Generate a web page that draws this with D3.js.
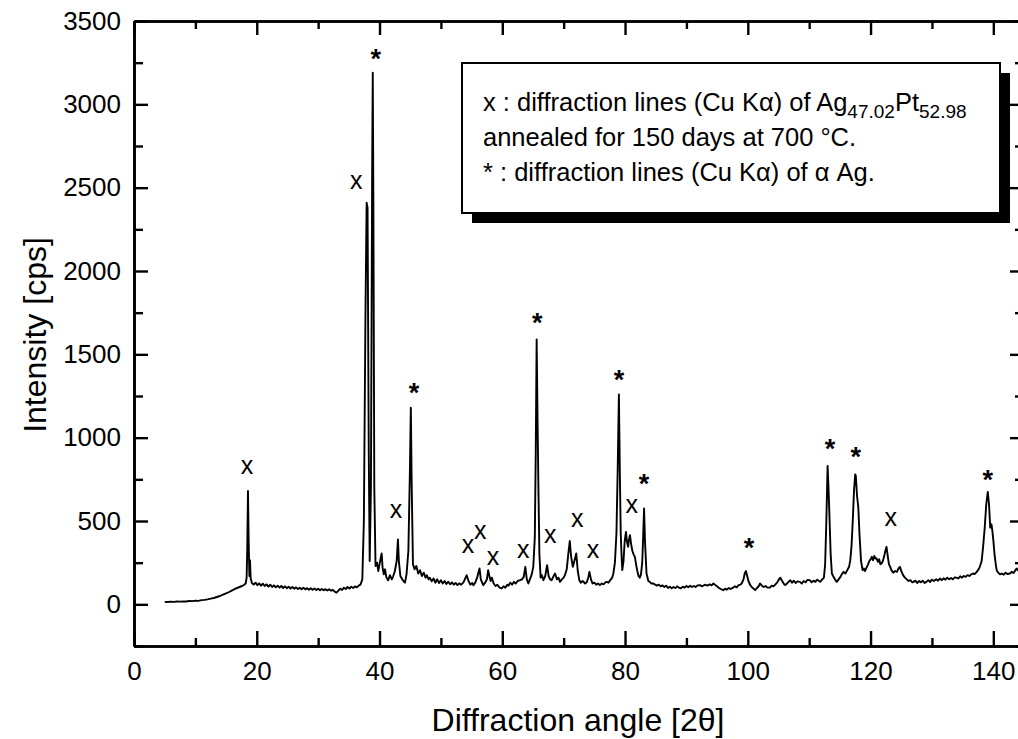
<!DOCTYPE html>
<html><head><meta charset="utf-8">
<script src="https://cdn.jsdelivr.net/npm/d3@7/dist/d3.min.js"></script>
<style>body{margin:0;background:#fff}svg{display:block}text{font-family:"Liberation Sans",Arial,sans-serif;fill:#000}</style>
</head><body><svg id="c" width="1018" height="739"></svg>
<script>
// ---- data ----
const twoTheta = [5.0,5.5,6.0,6.5,7.0,7.5,8.0,8.5,9.0,9.5,10.0,10.5,11.0,11.5,12.0,12.5,13.0,13.5,14.0,14.5,15.0,15.5,16.0,16.4,16.8,17.2,17.6,17.9,18.2,18.35,18.45,18.57,18.68,18.8,18.9,19.0,19.2,19.5,19.8,20.1,20.4,20.7,21.0,21.3,21.6,21.9,22.2,22.5,22.8,23.1,23.4,23.7,24.0,24.3,24.6,24.9,25.2,25.5,25.8,26.1,26.4,26.7,27.0,27.3,27.6,27.9,28.2,28.5,28.8,29.1,29.4,29.7,30.0,30.3,30.6,30.9,31.2,31.5,31.8,32.1,32.4,32.7,33.0,33.3,33.6,33.9,34.2,34.5,34.8,35.1,35.4,35.7,36.0,36.3,36.6,36.9,37.2,37.45,37.7,37.9,38.05,38.25,38.4,38.6,38.8,38.9,39.0,39.15,39.35,39.6,39.8,40.0,40.2,40.35,40.5,40.7,40.9,41.1,41.4,41.7,42.0,42.2,42.5,42.8,43.0,43.15,43.4,43.7,44.0,44.15,44.4,44.7,44.95,45.1,45.25,45.45,45.7,46.0,46.3,46.6,46.9,47.2,47.5,47.7,48.0,48.2,48.5,48.8,49.1,49.4,49.7,50.0,50.3,50.6,50.9,51.2,51.5,51.8,52.1,52.4,52.7,53.0,53.3,53.65,53.9,54.2,54.5,54.8,55.1,55.3,55.6,55.9,56.1,56.3,56.5,56.9,57.2,57.5,57.7,57.9,58.1,58.3,58.6,58.9,59.2,59.5,59.9,60.2,60.5,60.8,61.0,61.3,61.6,61.9,62.2,62.5,62.9,63.2,63.5,63.75,64.0,64.25,64.5,64.8,65.05,65.3,65.45,65.6,65.75,65.9,66.05,66.25,66.45,66.7,67.0,67.3,67.55,67.8,68.05,68.3,68.6,68.9,69.15,69.4,69.7,70.0,70.2,70.5,70.75,71.0,71.2,71.5,71.75,72.05,72.3,72.55,72.8,73.1,73.5,73.8,74.0,74.2,74.45,74.7,75.0,75.3,75.6,75.9,76.2,76.5,76.8,77.0,77.3,77.6,77.9,78.1,78.35,78.6,78.8,79.0,79.15,79.3,79.45,79.55,79.75,79.95,80.15,80.3,80.5,80.65,80.8,81.0,81.2,81.4,81.6,81.8,82.0,82.2,82.4,82.6,82.8,82.95,83.1,83.25,83.5,83.8,84.1,84.3,84.6,84.9,85.2,85.5,85.8,86.1,86.4,86.7,87.0,87.3,87.6,87.9,88.2,88.5,88.8,89.1,89.4,89.7,90.0,90.3,90.6,90.9,91.2,91.5,91.8,92.2,92.6,93.0,93.4,93.8,94.1,94.4,94.7,95.0,95.3,95.6,96.0,96.3,96.6,96.9,97.2,97.6,97.9,98.2,98.5,98.8,99.0,99.3,99.5,99.7,99.9,100.1,100.4,100.7,101.0,101.2,101.5,101.8,102.0,102.3,102.6,102.9,103.2,103.6,103.9,104.2,104.5,104.8,105.0,105.3,105.6,105.9,106.1,106.4,106.7,106.9,107.2,107.5,107.8,108.1,108.5,108.8,109.1,109.4,109.7,110.1,110.4,110.7,111.0,111.3,111.6,111.8,112.1,112.4,112.6,112.8,113.0,113.15,113.3,113.5,113.7,113.9,114.2,114.5,114.8,115.1,115.3,115.6,115.9,116.2,116.5,116.7,116.9,117.1,117.3,117.5,117.6,117.8,118.0,118.2,118.45,118.7,118.9,119.1,119.4,119.6,119.8,120.0,120.2,120.4,120.6,120.8,121.0,121.2,121.4,121.6,121.8,122.0,122.2,122.4,122.6,122.8,123.0,123.2,123.4,123.7,124.0,124.3,124.55,124.8,125.0,125.3,125.6,125.9,126.2,126.5,126.8,127.0,127.3,127.6,127.9,128.2,128.5,128.8,129.1,129.4,129.7,130.0,130.3,130.7,131.0,131.3,131.6,131.9,132.2,132.5,132.8,133.1,133.4,133.7,134.0,134.3,134.6,134.9,135.2,135.5,135.8,136.1,136.4,136.7,137.0,137.3,137.6,137.8,138.1,138.35,138.6,138.85,139.1,139.3,139.5,139.7,139.85,140.0,140.2,140.4,140.55,140.8,141.1,141.4,141.7,142.0,142.3,142.7,143.0,143.3,143.6,143.8,144.1,144.4,144.7,145.0];
const counts = [15,14,16,15,17,16,18,17,20,19,22,21,25,27,30,34,38,44,50,58,66,74,84,92,98,104,110,116,125,160,330,680,380,170,265,160,128,118,130,115,126,112,124,110,120,106,118,104,114,102,112,100,110,98,108,97,106,95,104,94,102,92,100,91,99,90,97,88,96,87,95,86,94,85,92,84,91,83,90,82,86,76,70,82,94,86,100,92,104,95,106,98,108,102,112,118,150,500,1700,2410,2380,900,260,700,2600,3190,2400,700,230,250,200,240,280,305,220,180,210,165,144,175,150,165,200,260,390,260,170,150,135,130,180,320,800,1180,700,240,210,230,185,205,170,190,160,175,150,160,138,155,130,150,128,145,125,140,122,136,120,132,118,128,116,126,118,130,150,175,140,118,128,115,130,160,190,215,150,115,130,150,205,170,140,160,125,110,118,102,95,108,100,118,112,130,118,135,125,140,145,150,165,225,150,125,150,180,225,400,900,1590,1100,665,300,160,175,145,170,235,170,150,145,165,185,150,160,135,150,160,175,210,300,380,290,225,260,305,200,145,130,140,125,135,160,195,150,125,130,118,125,115,125,120,132,135,130,145,160,185,250,425,800,1260,800,425,280,205,260,380,435,380,345,390,415,360,320,300,285,240,200,170,160,180,250,400,575,380,185,140,132,125,125,118,112,118,108,114,104,112,98,106,96,104,98,108,100,96,106,100,110,102,112,104,110,104,114,115,108,118,112,120,114,125,116,108,98,92,85,94,88,98,92,100,108,102,115,118,125,150,185,200,170,140,115,102,92,85,98,110,125,112,104,110,100,100,112,108,120,132,145,160,140,122,115,125,138,145,130,142,128,138,135,125,140,132,146,145,132,142,135,148,140,135,148,160,240,500,830,700,535,300,185,170,150,135,150,165,180,195,185,205,225,265,350,500,680,780,770,650,585,420,260,205,215,200,225,240,260,270,285,265,290,275,275,255,270,240,245,260,285,320,345,290,240,225,205,190,200,195,215,225,200,175,160,150,140,145,132,135,142,128,140,132,142,128,135,145,134,148,140,150,142,155,145,156,148,160,150,158,150,162,160,155,168,160,170,165,175,170,180,185,182,195,210,225,260,350,460,600,675,600,460,480,440,385,300,240,205,190,180,185,178,190,182,185,195,188,205,215,200,210,205,200];

// peak markers: x = Ag47.02Pt52.98 lines, * = alpha-Ag lines (label centre, data units)
const xMarkAngle = [18.4,36.2,42.7,54.4,56.4,58.5,63.4,67.8,72.2,74.8,81.1,123.3];
const xMarkLevel = [816,2527,552,342,426,270,312,402,498,312,582,504];
const starAngle = [39.4,45.6,65.7,79.0,83.1,100.2,113.4,117.6,139.1];
const starLevel = [3307,1303,1723,1381,756,372,966,918,780];

const xMajor = [0,20,40,60,80,100,120,140];
const xMinor = [10,30,50,70,90,110,130];
const yMajor = [0,500,1000,1500,2000,2500,3000,3500];
const yMinor = [-250,250,750,1250,1750,2250,2750,3250];

const xTitle = "Diffraction angle [2\u03b8]";
const yTitle = "Intensity [cps]";

// ---- drawing ----
const svg = d3.select("#c");
const L = 134, R = 1024, T = 21, B = 646;
const x = d3.scaleLinear().domain([0,145]).range([L,R]);
const y = d3.scaleLinear().domain([-250,3500]).range([B,T]);

svg.append("rect").attr("width",1018).attr("height",739).attr("fill","#fff");

svg.append("clipPath").attr("id","clip").append("rect")
  .attr("x",L).attr("y",T).attr("width",R-L).attr("height",B-T);

const line = d3.line().x((d,i)=>x(twoTheta[i])).y((d,i)=>y(counts[i]));
svg.append("path").datum(counts).attr("clip-path","url(#clip)")
  .attr("d",line).attr("fill","none").attr("stroke","#000")
  .attr("stroke-width",1.9).attr("stroke-linejoin","round");

function styleAxis(g){
  g.selectAll("path.domain").attr("stroke","#000").attr("stroke-width",2.6);
  g.selectAll(".tick line").attr("stroke","#000").attr("stroke-width",2.4);
  g.selectAll("text").attr("font-size",26).attr("font-family",'"Liberation Sans",Arial,sans-serif');
}
// bottom
svg.append("g").attr("transform",`translate(0,${B})`)
  .call(d3.axisBottom(x).tickValues(xMajor).tickSizeInner(-15).tickSizeOuter(0).tickPadding(16).tickFormat(d3.format("d")))
  .call(styleAxis);
svg.append("g").attr("transform",`translate(0,${B})`)
  .call(d3.axisBottom(x).tickValues(xMinor).tickSizeInner(-8).tickSizeOuter(0).tickFormat(""))
  .call(styleAxis);
// top
svg.append("g").attr("transform",`translate(0,${T})`)
  .call(d3.axisTop(x).tickValues(xMajor).tickSizeInner(-14).tickSizeOuter(0).tickFormat(""))
  .call(styleAxis);
svg.append("g").attr("transform",`translate(0,${T})`)
  .call(d3.axisTop(x).tickValues(xMinor).tickSizeInner(-8).tickSizeOuter(0).tickFormat(""))
  .call(styleAxis);
// left
svg.append("g").attr("transform",`translate(${L},0)`)
  .call(d3.axisLeft(y).tickValues(yMajor).tickSizeInner(-14).tickSizeOuter(0).tickPadding(13).tickFormat(d3.format("d")))
  .call(styleAxis);
svg.append("g").attr("transform",`translate(${L},0)`)
  .call(d3.axisLeft(y).tickValues(yMinor).tickSizeInner(-9).tickSizeOuter(0).tickFormat(""))
  .call(styleAxis);
// right
svg.append("g").attr("transform",`translate(${R},0)`)
  .call(d3.axisRight(y).tickValues(yMajor).tickSizeInner(-14).tickSizeOuter(0).tickFormat(""))
  .call(styleAxis);
svg.append("g").attr("transform",`translate(${R},0)`)
  .call(d3.axisRight(y).tickValues(yMinor).tickSizeInner(-9).tickSizeOuter(0).tickFormat(""))
  .call(styleAxis);

// titles
svg.append("text").attr("x",578).attr("y",731).attr("text-anchor","middle")
  .attr("font-size",32).text(xTitle);
svg.append("text").attr("transform","translate(46,335) rotate(-90)").attr("text-anchor","middle")
  .attr("font-size",32).text(yTitle);

// peak markers
svg.append("g").selectAll("text").data(xMarkAngle).join("text")
  .attr("x",(d)=>x(d)).attr("y",(d,i)=>y(xMarkLevel[i])+6)
  .attr("text-anchor","middle").attr("font-size",25).text("x");
svg.append("g").selectAll("text").data(starAngle).join("text")
  .attr("x",(d)=>x(d)).attr("y",(d,i)=>y(starLevel[i])+15)
  .attr("text-anchor","middle").attr("font-size",27).attr("font-weight","bold").text("*");

// legend box with shadow
const lg = svg.append("g");
lg.append("rect").attr("x",472).attr("y",73).attr("width",538).attr("height",150).attr("fill","#000");
lg.append("rect").attr("x",462).attr("y",63).attr("width",538).attr("height",150)
  .attr("fill","#fff").attr("stroke","#000").attr("stroke-width",2);
const fs = 25.5, tx = 483;
const l1 = lg.append("text").attr("x",tx).attr("y",111).attr("font-size",fs);
l1.append("tspan").text("x : diffraction lines (Cu K\u03b1) of Ag");
l1.append("tspan").attr("font-size",19).attr("dy",7).text("47.02");
l1.append("tspan").attr("dy",-7).text("Pt");
l1.append("tspan").attr("font-size",19).attr("dy",7).text("52.98");
lg.append("text").attr("x",tx).attr("y",146).attr("font-size",fs).text("annealed for 150 days at 700 \u00b0C.");
lg.append("text").attr("x",tx).attr("y",181).attr("font-size",fs).text("* : diffraction lines (Cu K\u03b1) of \u03b1 Ag.");
</script></body></html>
